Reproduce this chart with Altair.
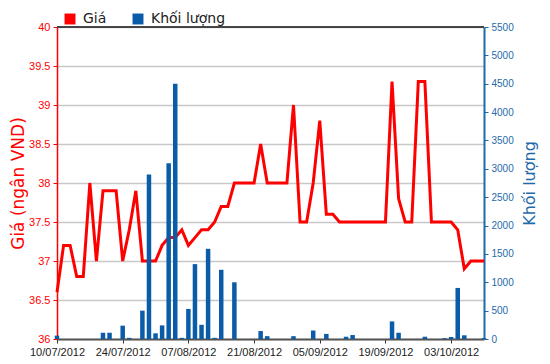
import altair as alt
import pandas as pd

dates = [
    "10/07/2012", "11/07/2012", "12/07/2012", "13/07/2012", "16/07/2012", "17/07/2012",
    "18/07/2012", "19/07/2012", "20/07/2012", "23/07/2012", "24/07/2012", "25/07/2012",
    "26/07/2012", "27/07/2012", "30/07/2012", "31/07/2012",
    "01/08/2012", "02/08/2012", "03/08/2012", "06/08/2012", "07/08/2012", "08/08/2012",
    "09/08/2012", "10/08/2012", "13/08/2012", "14/08/2012", "15/08/2012", "16/08/2012",
    "17/08/2012", "20/08/2012", "21/08/2012", "22/08/2012", "23/08/2012", "24/08/2012",
    "27/08/2012", "28/08/2012", "29/08/2012", "30/08/2012", "31/08/2012",
    "04/09/2012", "05/09/2012", "06/09/2012", "07/09/2012", "10/09/2012", "11/09/2012",
    "12/09/2012", "13/09/2012", "14/09/2012", "17/09/2012", "18/09/2012", "19/09/2012",
    "20/09/2012", "21/09/2012", "24/09/2012", "25/09/2012", "26/09/2012", "27/09/2012",
    "28/09/2012",
    "01/10/2012", "02/10/2012", "03/10/2012", "04/10/2012", "05/10/2012", "08/10/2012",
    "09/10/2012", "10/10/2012",
]

price = [
    36.6, 37.2, 37.2, 36.8, 36.8, 38.0, 37.0, 37.9, 37.9, 37.9,
    37.0, 37.4, 37.9, 37.0, 37.0, 37.0, 37.2, 37.3, 37.3, 37.4,
    37.2, 37.3, 37.4, 37.4, 37.5, 37.7, 37.7, 38.0, 38.0, 38.0,
    38.0, 38.5, 38.0, 38.0, 38.0, 38.0, 39.0, 37.5, 37.5, 38.0,
    38.8, 37.6, 37.6, 37.5, 37.5, 37.5, 37.5, 37.5, 37.5, 37.5,
    37.5, 39.3, 37.8, 37.5, 37.5, 39.3, 39.3, 37.5, 37.5, 37.5,
    37.5, 37.4, 36.9, 37.0, 37.0, 37.0,
]

volume = [
    60, 0, 0, 0, 0, 0, 0, 110, 110, 0,
    235, 20, 0, 500, 2900, 100, 240, 3100, 4500, 20,
    530, 1320, 250, 1590, 20, 1220, 0, 1000, 0, 0,
    0, 140, 50, 0, 0, 0, 50, 0, 0, 150,
    0, 90, 0, 0, 40, 70, 0, 0, 0, 0,
    0, 310, 110, 0, 0, 0, 40, 0, 0, 15,
    35, 900, 65, 0, 0, 15,
]

tick_dates = ["10/07/2012", "24/07/2012", "07/08/2012", "21/08/2012",
              "05/09/2012", "19/09/2012", "03/10/2012"]
price_ticks = [36, 36.5, 37, 37.5, 38, 38.5, 39, 39.5, 40]
volume_ticks = [0, 500, 1000, 1500, 2000, 2500, 3000, 3500, 4000, 4500, 5000, 5500]
series_names = ["Giá", "Khối lượng"]

df = pd.DataFrame({"date": dates, "price": price, "volume": volume,
                   "series": ["Khối lượng"] * len(dates)})
top_df = pd.DataFrame({"price": [40]})

FONT = "Liberation Sans"
TFONT = "DejaVu Sans"
RED = "#FF0000"
BLUE = "#0B5CA8"
AXBLUE = "#1F6AAA"

x_enc = alt.X(
    "date:O", sort=None,
    scale=alt.Scale(type="point", padding=0),
    axis=alt.Axis(values=tick_dates, labelAngle=0, title=None,
                  domainColor="#555555", domainWidth=2,
                  tickColor="#333333", tickSize=4, tickWidth=1,
                  labelColor="#222222", labelFontSize=11, labelFont=FONT,
                  labelPadding=3, grid=False, labelOverlap=False,
                  labelBound=False, labelFlush=False),
)

price_axis = alt.Axis(values=price_ticks, labelExpr="'' + datum.value",
                      title="Giá (ngân VND)", titleColor=RED, titleFont=TFONT,
                      titleFontSize=17, titleFontWeight="normal", titlePadding=1,
                      labelColor=RED, labelFont=FONT, labelFontSize=11,
                      labelPadding=3,
                      domainColor=RED, domainWidth=1.5,
                      tickColor=RED, tickSize=4,
                      grid=True, gridColor="#C8C8C8", gridWidth=1.5)
price_scale = alt.Scale(domain=[36, 40], nice=False, zero=False)

line = alt.Chart(df).mark_line(color=RED, strokeWidth=3, strokeJoin="miter").encode(
    x=x_enc,
    y=alt.Y("price:Q", scale=price_scale, axis=price_axis),
)

top_rule = alt.Chart(top_df).mark_rule(color="#444444", strokeWidth=2).encode(
    y=alt.Y("price:Q", scale=price_scale, axis=price_axis)
)

bars = alt.Chart(df).mark_bar(size=4.5).encode(
    x=x_enc,
    y=alt.Y("volume:Q",
            scale=alt.Scale(domain=[0, 5500], nice=False),
            axis=alt.Axis(orient="right", values=volume_ticks, format="d",
                          title="Khối lượng", titleColor=AXBLUE, titleFont=TFONT,
                          titleFontSize=16, titleFontWeight="normal", titleAngle=270,
                          titleBaseline="top", titlePadding=8,
                          labelColor=AXBLUE, labelFont=FONT, labelFontSize=10,
                          labelPadding=3,
                          domainColor=AXBLUE, domainWidth=2,
                          tickColor=AXBLUE, tickSize=4, grid=False)),
    color=alt.Color("series:N",
                    scale=alt.Scale(domain=series_names, range=[RED, BLUE]),
                    legend=alt.Legend(orient="none", legendX=6, legendY=-15,
                                      direction="horizontal", title=None,
                                      symbolType="square", symbolSize=120,
                                      symbolStrokeWidth=0,
                                      labelFont=TFONT, labelFontSize=14,
                                      labelColor="#222222", labelOffset=6,
                                      columnPadding=24)),
)

price_layer = alt.layer(line, top_rule)

chart = alt.layer(price_layer, bars).resolve_scale(y="independent").properties(
    width=427, height=312,
    autosize=alt.AutoSizeParams(type="none"),
    padding={"left": 49, "top": 19, "right": 58, "bottom": 17},
    background="white",
).configure_view(stroke=None)

chart.save("out.html", embed_options={"renderer": "svg", "actions": False})
